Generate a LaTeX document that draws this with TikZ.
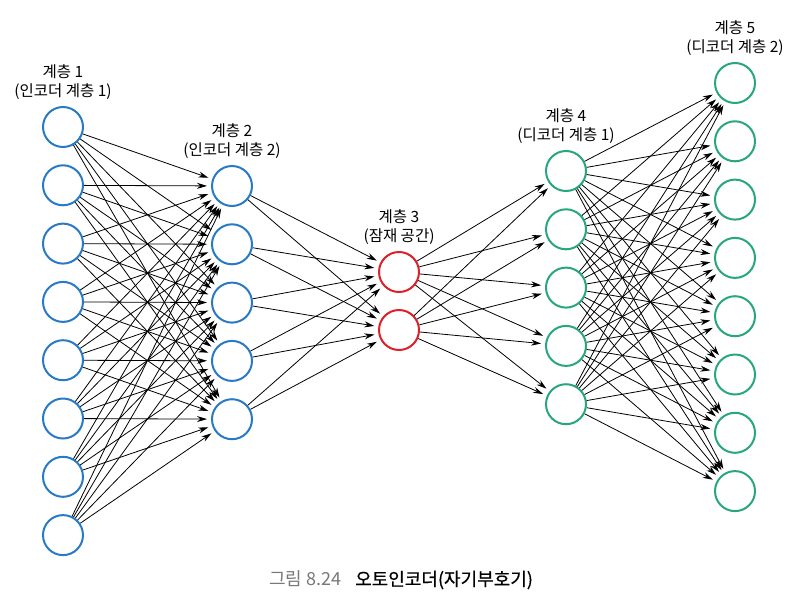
\documentclass[tikz,border=0pt]{standalone}
\usepackage{fontspec}
\setmainfont{Noto Sans CJK KR}
\newfontfamily\captionfont[FakeBold=0.7]{Noto Sans CJK KR}
\usepackage{xcolor}
\usetikzlibrary{arrows.meta, positioning}
\definecolor{encblue}{RGB}{40, 122, 196}
\definecolor{latentred}{RGB}{222, 32, 40}
\definecolor{decgreen}{RGB}{40, 166, 128}
\definecolor{captiongray}{RGB}{120, 120, 120}

\begin{document}
\begin{tikzpicture}[
    x=1pt, y=-1pt,
    every node/.style={font=\fontsize{15.5}{19}\selectfont},
    neuron/.style={circle, draw, line width=2pt, fill=white, minimum size=40pt, inner sep=0pt},
    link/.style={-{Stealth[length=10pt, width=6pt]}, line width=0.8pt, shorten >=4pt},
    layerlabel/.style={align=center, above=3pt of #1}
]
\useasboundingbox (0,0) rectangle (799,602);
% neurons
\foreach \i in {1,...,8}
  \node[neuron, draw=encblue] (in\i) at (63, {127+58.3*(\i-1)}) {};
\foreach \i in {1,...,5}
  \node[neuron, draw=encblue] (hid\i) at (232, {186+58.3*(\i-1)}) {};
\node[neuron, draw=latentred] (code1) at (399, 272) {};
\node[neuron, draw=latentred] (code2) at (399, 330) {};
\foreach \i in {1,...,5}
  \node[neuron, draw=decgreen] (dec\i) at (566, {171+58.3*(\i-1)}) {};
\foreach \i in {1,...,8}
  \node[neuron, draw=decgreen] (out\i) at (735, {83+58.3*(\i-1)}) {};
% labels
\node[layerlabel=in1] (lab1) {계층 1\\(인코더 계층 1)};
\node[layerlabel=hid1] (lab2) {계층 2\\(인코더 계층 2)};
\node[layerlabel=code1] (lab3) {계층 3\\(잠재 공간)};
\node[layerlabel=dec1] (lab4) {계층 4\\(디코더 계층 1)};
\node[layerlabel=out1] (lab5) {계층 5\\(디코더 계층 2)};
% connections
\foreach \i in {1,...,8}
  \foreach \j in {1,...,5}
    \draw[link] (in\i) -- (hid\j);
\foreach \i in {1,...,5}
  \foreach \j in {1,2}
    \draw[link] (hid\i) -- (code\j);
\foreach \i in {1,2}
  \foreach \j in {1,...,5}
    \draw[link] (code\i) -- (dec\j);
\foreach \i in {1,...,5}
  \foreach \j in {1,...,8}
    \draw[link] (dec\i) -- (out\j);
% caption
\node[font=\fontsize{18}{20}\selectfont] (caption) at (401, 580)
  {{\color{captiongray}그림 8.24}\hspace{14pt}{\captionfont 오토인코더(자기부호기)}};
\end{tikzpicture}
\end{document}
